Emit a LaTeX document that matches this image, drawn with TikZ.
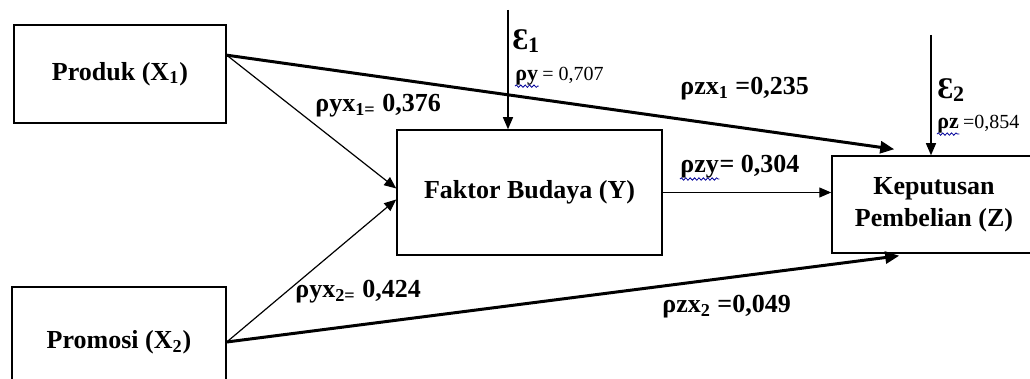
\documentclass[tikz,border=0pt]{standalone}
\usepackage{fontspec}
\setmainfont{Liberation Serif}
\usetikzlibrary{positioning,arrows.meta,calc,decorations.pathmorphing}
\tikzset{>={Triangle[length=6pt,width=5pt]}}

\begin{document}
\begin{tikzpicture}[x=0.5pt,y=-0.5pt,
  box/.style={draw,line width=0.75pt,inner sep=0pt,align=center,font=\bfseries\fontsize{13}{16}\selectfont},
  lbl/.style={inner sep=0pt,font=\bfseries\fontsize{13}{15}\selectfont},
  lblres/.style={inner sep=0pt,font=\bfseries\fontsize{11}{13}\selectfont},
  lblsm/.style={inner sep=0pt,font=\fontsize{10}{12}\selectfont},
  eps/.style={inner sep=0pt,font=\bfseries\fontsize{15}{17}\selectfont},
  pathln/.style={->,line width=0.6pt},
  mainln/.style={->,line width=1.5pt,>={Triangle[length=7pt,width=6pt]}},
  wavy/.style={draw=blue!60!black,line width=0.4pt,decorate,decoration={snake,amplitude=0.6pt,segment length=2.2pt}}]
  \clip (0,0) rectangle (1030,379);
  % variables
  \node[box,minimum width=106pt,minimum height=49pt] (prod) at (120,74) {Produk (X\textsubscript{1})};
  \node[box,minimum width=107pt,minimum height=55pt] (promo) at (119,342) {Promosi (X\textsubscript{2})};
  \node[box,minimum width=132.5pt,minimum height=62.5pt] (budaya) at (529.5,192.5) {Faktor Budaya (Y)};
  \node[box,minimum width=102pt,minimum height=48.5pt] (kep) at (934,204.5) {Keputusan\\Pembelian (Z)};
  % paths
  \draw[mainln] (prod.10) -- ([xshift=31.5pt,yshift=3pt]kep.north west);
  \draw[pathln] (prod.10) -- ([yshift=2pt]budaya.west);
  \draw[pathln] (promo.east) -- ([yshift=-3.5pt]budaya.west);
  \draw[mainln] (promo.east) -- ([xshift=34pt,yshift=-1pt]kep.south west);
  \draw[pathln] (budaya.east) -- (budaya.east -| kep.west);
  % residuals
  \coordinate (e1) at (508,10);
  \draw[pathln] (e1) -- (e1 |- budaya.north);
  \coordinate (e2) at (931,35);
  \draw[pathln] (e2) -- (e2 |- kep.north);
  % coefficients
  \node[lbl,anchor=base west] (lyx1) at (315,112) {ρyx\textsubscript{1=} 0,376};
  \node[lbl,anchor=base west] (lyx2) at (295,298) {ρyx\textsubscript{2=} 0,424};
  \node[lbl,anchor=base west] (lzx1) at (680,95) {ρzx\textsubscript{1} =0,235};
  \node[lbl,anchor=base west] (lzy) at (680,173) {ρzy};
  \node[lbl,anchor=base west] (lzyv) at (lzy.base east) {= 0,304};
  \node[lbl,anchor=base west] (lzx2) at (662,313) {ρzx\textsubscript{2} =0,049};
  \node[eps,anchor=base west] (eps1) at (512,50) {Ɛ\raisebox{-0.08em}{\fontsize{11}{11}\selectfont 1}};
  \node[lblres,anchor=base west] (ly) at (515,81) {ρy};
  \node[lblsm,anchor=base west] (lyv) at (ly.base east) {\,= 0,707};
  \node[eps,anchor=base west] (eps2) at (937,99) {Ɛ\raisebox{-0.08em}{\fontsize{11}{11}\selectfont 2}};
  \node[lblres,anchor=base west] (lz) at (937,129) {ρz};
  \node[lblsm,anchor=base west] (lzv) at (lz.base east) {\,=0,854};
  \draw[wavy] (ly.south west) -- (ly.south east);
  \draw[wavy] (lz.south west) -- (lz.south east);
  \draw[wavy] (lzy.south west) -- (lzy.south east);
\end{tikzpicture}
\end{document}
